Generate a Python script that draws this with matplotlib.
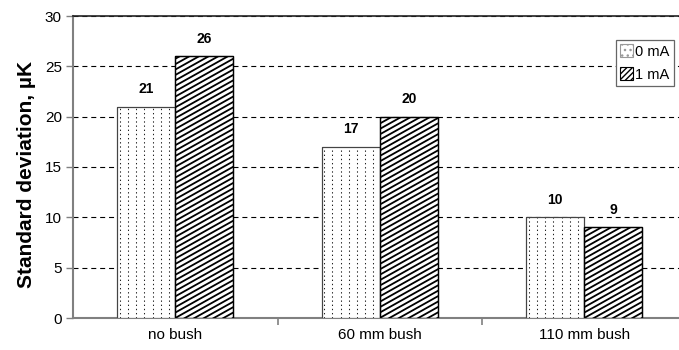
import numpy as np
import matplotlib
matplotlib.use('Agg')
import matplotlib.pyplot as plt
from matplotlib.patches import Patch
from matplotlib.transforms import IdentityTransform

plt.rcParams['font.family'] = ['Liberation Sans', 'DejaVu Sans']

# data
categories = ['no bush', '60 mm bush', '110 mm bush']
series_names = ['0 mA', '1 mA']
vals_0ma = [21, 17, 10]
vals_1ma = [26, 20, 9]

W, H = 679, 350
fig = plt.figure(figsize=(W / 100, H / 100), dpi=100)
# axes runs off the right edge, like the cropped original
ax = fig.add_axes([73 / W, 32 / H, 3 * 204.5 / W, 302 / H])

ind = np.arange(len(categories))
width = 58 / 204.5

bars0 = ax.bar(ind - width / 2, vals_0ma, width, color='white', edgecolor='#444444', lw=0.8, zorder=3)
bars1 = ax.bar(ind + width / 2, vals_1ma, width, color='white', edgecolor='black', lw=0.9, zorder=3)

ax.set_xlim(-0.5, 2.5)
ax.set_ylim(0, 30)
fig.canvas.draw()

# dotted columns in the 0 mA bars
px = 1 / 204.5
for b in bars0:
    x0 = b.get_x()
    xs = x0 + (2.5 + 8.2 * np.arange(7)) * px
    ax.vlines(xs, 0, b.get_height(), colors='#222222', lw=0.75,
              linestyles=[(0, (1.3, 2.7))], zorder=3.5)

# diagonal hatch in the 1 mA bars (drawn in pixels, clipped to the bar)
slope = 0.56
sp = 5.4
for b in bars1:
    (x0, y0), (x1, y1) = ax.transData.transform([(b.get_x(), 0), (b.get_x() + b.get_width(), b.get_height())])
    w = x1 - x0
    clip = plt.Rectangle((b.get_x(), 0), b.get_width(), b.get_height(), transform=ax.transData)
    k = np.arange(-int(w * slope / sp) - 2, int((y1 - y0) / sp) + 2)
    for kk in k:
        yy = y0 + kk * sp
        ln = plt.Line2D([x0, x1], [yy, yy + w * slope], color='black', lw=1.3,
                        transform=IdentityTransform(), zorder=3.6)
        ax.add_artist(ln)
        ln.set_clip_path(clip)

# redraw the bar outlines on top
for b in list(bars0) + list(bars1):
    r = plt.Rectangle((b.get_x(), 0), b.get_width(), b.get_height(), fill=False,
                      edgecolor=b.get_edgecolor(), lw=b.get_linewidth(), zorder=4)
    ax.add_patch(r)

for bs in (bars0, bars1):
    for b in bs:
        ax.annotate('%d' % b.get_height(), (b.get_x() + b.get_width() / 2, b.get_height()),
                    xytext=(0, 7.5), textcoords='offset points', ha='center', va='bottom',
                    fontsize=10, fontweight='bold')

# grid
ax.set_yticks(np.arange(0, 31, 5))
ax.yaxis.grid(True, color='black', lw=0.8, linestyle=(0, (4.5, 3.5)))
ax.set_axisbelow(True)

ax.set_xticks(ind)
ax.set_xticklabels(categories, fontsize=11)
ax.set_xticks([0.5, 1.5], minor=True)
ax.tick_params(axis='x', which='major', length=0, pad=7)
ax.tick_params(axis='x', which='minor', length=5, color='#808080', width=1.2, direction='out')
ax.tick_params(axis='y', length=5, color='#808080', width=1.0, labelsize=11, pad=3)

ax.spines['left'].set_color('#808080')
ax.spines['left'].set_linewidth(1.5)
ax.spines['bottom'].set_color('#808080')
ax.spines['bottom'].set_linewidth(1.5)
ax.spines['top'].set_color('#222222')
ax.spines['top'].set_linewidth(1.2)
ax.spines['right'].set_visible(False)

ax.set_ylabel('Standard deviation, µK', fontsize=15, fontweight='bold')
ax.yaxis.set_label_coords(-0.060, 0.474)

handles = [Patch(facecolor='white', edgecolor='#999999', hatch='...', lw=0.8),
           Patch(facecolor='white', edgecolor='black', hatch='//////', lw=0.8)]
leg = fig.legend(handles, series_names, loc='upper left', bbox_to_anchor=(616 / W, 1 - 40 / H),
                 fontsize=10.5, handlelength=0.85, handleheight=0.95, handletextpad=0.15,
                 borderpad=0.3, borderaxespad=0, labelspacing=0.6, fancybox=False,
                 edgecolor='#666666', framealpha=1)
leg.get_frame().set_linewidth(0.9)

fig.savefig('out.png', dpi=100)
